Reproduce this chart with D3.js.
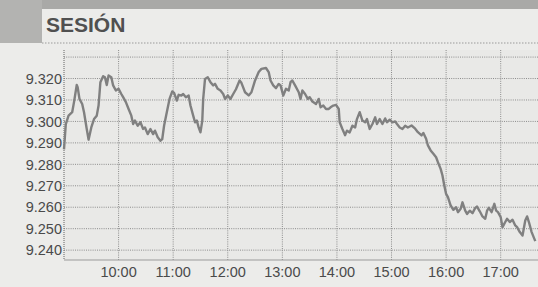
<!DOCTYPE html>
<html>
<head>
<meta charset="utf-8">
<script src="https://cdn.jsdelivr.net/npm/d3@7"></script>
<style>
  html, body { margin: 0; padding: 0; background: #ececea; }
  svg { display: block; }
</style>
</head>
<body>
<script>
// ---- data ----
const title = "SESIÓN";
const times = ["9:00","9:02","9:05","9:09","9:11","9:14","9:15","9:17","9:20","9:22","9:25","9:27","9:30","9:33","9:36","9:38","9:40","9:43","9:45","9:47","9:49","9:52","9:54","9:57",
"10:00","10:03","10:05","10:08","10:11","10:14","10:16","10:18","10:21","10:24","10:27","10:29","10:32","10:35","10:38","10:40","10:43","10:46","10:48","10:50","10:53","10:56","10:59",
"11:01","11:04","11:06","11:09","11:11","11:14","11:17","11:19","11:22","11:24","11:26","11:28","11:30","11:32","11:33","11:35","11:38","11:41","11:44","11:46","11:49","11:52","11:55","11:57",
"12:00","12:03","12:06","12:09","12:13","12:15","12:19","12:23","12:26","12:30","12:34","12:37","12:42","12:45","12:47","12:50","12:53","12:56","12:58",
"13:01","13:04","13:07","13:09","13:11","13:14","13:18","13:20","13:22","13:25","13:28","13:30","13:33","13:37","13:40","13:42","13:45","13:48","13:51","13:53","13:56","13:59",
"14:02","14:03","14:06","14:09","14:11","14:14","14:17","14:20","14:22","14:25","14:28","14:31","14:33","14:36","14:39","14:42","14:44","14:47","14:50","14:53","14:55","14:58",
"15:01","15:04","15:06","15:09","15:12","15:15","15:18","15:22","15:26","15:29","15:33","15:35","15:38","15:40","15:43","15:46","15:49","15:51","15:54","15:56","15:58",
"16:00","16:02","16:05","16:08","16:11","16:13","16:16","16:18","16:21","16:23","16:26","16:29","16:32","16:34","16:37","16:40","16:43","16:45","16:47","16:50","16:53","16:55","16:57",
"17:00","17:02","17:05","17:07","17:10","17:13","17:16","17:18","17:21","17:24","17:27","17:29","17:31","17:34","17:38"];
const values = [9.2870,9.2988,9.3027,9.3043,9.3090,9.3170,9.3160,9.3105,9.3081,9.3043,9.2965,9.2915,9.2972,9.3011,9.3027,9.3074,9.3183,9.3211,9.3206,9.3170,9.3214,9.3206,9.3168,9.3144,
9.3152,9.3128,9.3113,9.3090,9.3058,9.3027,9.2988,9.3004,9.2980,9.2996,9.2965,9.2972,9.2941,9.2965,9.2941,9.2957,9.2926,9.2910,9.2918,9.2980,9.3043,9.3105,9.3140,
9.3133,9.3097,9.3124,9.3121,9.3128,9.3113,9.3121,9.3074,9.3027,9.2996,9.3004,9.2972,9.2949,9.3004,9.3105,9.3198,9.3206,9.3183,9.3168,9.3175,9.3152,9.3144,9.3128,9.3105,
9.3121,9.3105,9.3128,9.3150,9.3191,9.3180,9.3136,9.3121,9.3136,9.3191,9.3230,9.3245,9.3249,9.3230,9.3191,9.3168,9.3155,9.3175,9.3168,
9.3121,9.3152,9.3144,9.3183,9.3191,9.3168,9.3136,9.3105,9.3144,9.3128,9.3105,9.3113,9.3093,9.3081,9.3105,9.3066,9.3074,9.3058,9.3058,9.3066,9.3074,9.3077,
9.3058,9.2996,9.2965,9.2936,9.2957,9.2949,9.2980,9.2972,9.3011,9.3043,9.3004,9.2996,9.3011,9.2965,9.2988,9.3019,9.2988,9.3011,9.2988,9.3014,9.2996,9.3008,
9.2996,9.3000,9.2988,9.2972,9.2965,9.2980,9.2972,9.2981,9.2966,9.2950,9.2935,9.2946,9.2919,9.2888,9.2865,9.2849,9.2833,9.2810,9.2779,9.2748,9.2701,
9.2662,9.2647,9.2608,9.2588,9.2600,9.2577,9.2593,9.2623,9.2584,9.2569,9.2584,9.2572,9.2597,9.2603,9.2581,9.2557,9.2546,9.2584,9.2597,9.2577,9.2616,9.2584,9.2577,
9.2554,9.2507,9.2531,9.2546,9.2531,9.2542,9.2515,9.2507,9.2484,9.2468,9.2538,9.2557,9.2531,9.2484,9.2442];
const yTicks = [9.240,9.250,9.260,9.270,9.280,9.290,9.300,9.310,9.320];
const yGrid = [9.240,9.250,9.260,9.270,9.280,9.290,9.300,9.310,9.320,9.330];
const xTicks = ["10:00","11:00","12:00","13:00","14:00","15:00","16:00","17:00"];

// ---- drawing ----
const W = 538, H = 287;
const parse = d3.timeParse("%H:%M");
const data = times.map((t, i) => ({ t: parse(t), v: values[i] }));

const svg = d3.select("body").append("svg").attr("width", W).attr("height", H);

// paper background
svg.append("rect").attr("width", W).attr("height", H).attr("fill", "#ececea");

// header strips
svg.append("rect").attr("x", 0).attr("y", 0).attr("width", W).attr("height", 9).attr("fill", "#a9a9a7");
svg.append("rect").attr("x", 0).attr("y", 0).attr("width", 42).attr("height", 43).attr("fill", "#b3b3b1");
svg.append("line").attr("x1", 42).attr("x2", W).attr("y1", 43).attr("y2", 43)
  .attr("stroke", "#9a9a9a").attr("stroke-width", 1.2).attr("stroke-dasharray", "1.5,1.5");
svg.append("text").attr("x", 46).attr("y", 32)
  .attr("font-family", "Liberation Sans, Arial, sans-serif")
  .attr("font-weight", "bold").attr("font-size", 21)
  .attr("fill", "#505050").text(title);

const pLeft = 64, pRight = W, pTop = 50, pBottom = 260;
const x = d3.scaleTime()
  .domain([parse("9:00"), parse("17:41")])
  .range([pLeft, pRight]);
const y = d3.scaleLinear()
  .domain([9.2354, 9.3333])
  .range([pBottom, pTop]);

// plot background
svg.append("rect").attr("x", pLeft).attr("y", pTop).attr("width", pRight - pLeft).attr("height", pBottom - pTop)
  .attr("fill", "#e9e9e7");

// horizontal grid
svg.append("g").selectAll("line").data(yGrid).join("line")
  .attr("x1", pLeft).attr("x2", pRight)
  .attr("y1", d => y(d)).attr("y2", d => y(d))
  .attr("stroke", "#8c8c8c").attr("stroke-width", 1).attr("stroke-dasharray", "1,1.2");

// vertical grid
svg.append("g").selectAll("line").data(xTicks).join("line")
  .attr("x1", d => x(parse(d))).attr("x2", d => x(parse(d)))
  .attr("y1", pTop).attr("y2", pBottom)
  .attr("stroke", "#8c8c8c").attr("stroke-width", 1).attr("stroke-dasharray", "1,1.2");

// left axis (dotted) and bottom axis
svg.append("line").attr("x1", pLeft).attr("x2", pLeft).attr("y1", pTop).attr("y2", pBottom)
  .attr("stroke", "#7a7a7a").attr("stroke-width", 1.2).attr("stroke-dasharray", "1,1");
svg.append("line").attr("x1", pLeft).attr("x2", pRight).attr("y1", pBottom).attr("y2", pBottom)
  .attr("stroke", "#9a9a9a").attr("stroke-width", 1);

// y labels
svg.append("g").selectAll("text").data(yTicks).join("text")
  .attr("x", 62).attr("y", d => y(d)).attr("dy", "0.36em")
  .attr("text-anchor", "end")
  .attr("font-family", "Liberation Sans, Arial, sans-serif").attr("font-size", 14.5)
  .attr("fill", "#4a4a4a")
  .text(d => d3.format(".3f")(d));

// x labels
svg.append("g").selectAll("text").data(xTicks).join("text")
  .attr("x", d => x(parse(d))).attr("y", 277)
  .attr("text-anchor", "middle")
  .attr("font-family", "Liberation Sans, Arial, sans-serif").attr("font-size", 14.5)
  .attr("fill", "#4a4a4a")
  .text(d => d);

// line
const line = d3.line().x(d => x(d.t)).y(d => y(d.v));
svg.append("path").datum(data)
  .attr("d", line)
  .attr("fill", "none")
  .attr("stroke", "#808080")
  .attr("stroke-width", 2.4)
  .attr("stroke-linejoin", "round");
</script>
</body>
</html>
